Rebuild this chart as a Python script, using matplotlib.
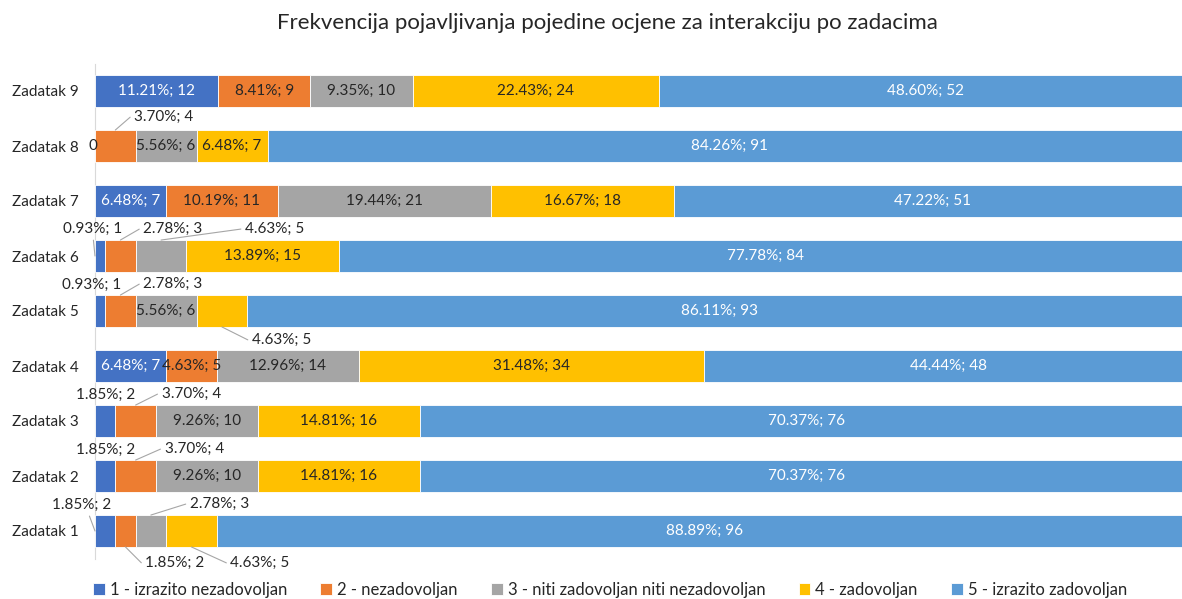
import matplotlib
matplotlib.use("Agg")
import matplotlib.pyplot as plt
import numpy as np

plt.rcParams['font.family'] = ['Lato', 'DejaVu Sans']

tasks = ["Zadatak 1", "Zadatak 2", "Zadatak 3", "Zadatak 4", "Zadatak 5",
         "Zadatak 6", "Zadatak 7", "Zadatak 8", "Zadatak 9"]
ratings = ["1 - izrazito nezadovoljan", "2 - nezadovoljan",
           "3 - niti zadovoljan niti nezadovoljan", "4 - zadovoljan",
           "5 - izrazito zadovoljan"]
# number of answers per rating, Zadatak 1 .. Zadatak 9
r1 = [2, 2, 2, 7, 1, 1, 7, 0, 12]
r2 = [2, 4, 4, 5, 3, 3, 11, 4, 9]
r3 = [3, 10, 10, 14, 6, 5, 21, 6, 10]
r4 = [5, 16, 16, 34, 5, 15, 18, 7, 24]
r5 = [96, 76, 76, 48, 93, 84, 51, 91, 52]
colors = ["#4472C4", "#ED7D31", "#A5A5A5", "#FFC000", "#5B9BD5"]
text_colors = ["white", "#262626", "#262626", "#262626", "white"]

# labels moved outside of narrow segments:
# (task index, rating index, anchor, dx px, dy px, leader)
callouts = [
    (7, 0, "left", -2, 0, None),
    (7, 1, "top", 19, 13, "elbow"),
    (5, 0, "left", -2, 27, "down"),
    (5, 1, "top", 23, 11, "elbow"),
    (5, 2, "top", 84, 11, "elbow"),
    (4, 0, "top", -8, 10, None),
    (4, 1, "top", 23, 11, "elbow"),
    (4, 3, "bottom", 30, -13, "elbow"),
    (2, 0, "top", 0, 10, None),
    (2, 1, "top", 26, 11, "elbow"),
    (1, 0, "top", 0, 10, None),
    (1, 1, "top", 29, 11, "elbow"),
    (0, 0, "left", -13, 26, "diag"),
    (0, 2, "top", 39, 11, "elbow"),
    (0, 1, "bottom", 20, -16, "elbow"),
    (0, 3, "bottom", 39, -16, "elbow"),
]

counts = np.array([r1, r2, r3, r4, r5], dtype=float)
totals = counts.sum(axis=0)
pcts = counts / totals * 100

fig = plt.figure(figsize=(11.82, 5.99), dpi=100)
ax = fig.add_axes([95 / 1182, 40.5 / 599, 1097 / 1182, 495 / 599])

y = np.arange(len(tasks))
bar_h = 0.58
left = np.zeros(len(tasks))
for k in range(5):
    ax.barh(y, pcts[k], left=left, height=bar_h, color=colors[k],
            edgecolor="white", linewidth=0.6, label=ratings[k])
    left += pcts[k]

def label_text(k, i):
    if counts[k, i] == 0:
        return "0"
    return f"{pcts[k, i]:.2f}%; {int(counts[k, i])}"

moved = {(i, k) for i, k, *_ in callouts}
starts = np.vstack([np.zeros(len(tasks)), np.cumsum(pcts, axis=0)[:-1]])
for k in range(5):
    for i in range(len(tasks)):
        if (i, k) in moved:
            continue
        xc = starts[k, i] + pcts[k, i] / 2
        ax.text(xc, y[i], label_text(k, i), ha="center", va="center",
                fontsize=11, color=text_colors[k])

lead = dict(arrowstyle="-", color="#A6A6A6", lw=0.8, shrinkA=1, shrinkB=0)
for i, k, anchor, dx, dy, leader in callouts:
    xc = starts[k, i] + pcts[k, i] / 2
    if anchor == "top":
        xy = (xc, y[i] + bar_h / 2)
    elif anchor == "bottom":
        xy = (xc, y[i] - bar_h / 2)
    else:
        xy = (0, y[i])
    props = None
    ha = "center"
    if leader == "elbow":
        ha = "left"
        props = dict(lead, relpos=(0, 0.5),
                     connectionstyle="arc,angleA=180,armA=4,angleB=0,armB=0,rad=0")
    elif leader == "down":
        props = dict(lead, relpos=(0.5, 0))
    elif leader == "diag":
        props = dict(lead, relpos=(0.6, 0))
    ax.annotate(label_text(k, i), xy=xy, xycoords="data", xytext=(dx, dy),
                textcoords="offset pixels", ha=ha, va="center", fontsize=11,
                color="#262626", arrowprops=props)

ax.set_xlim(0, 100)
ax.set_ylim(-0.5, len(tasks) - 0.5)
ax.set_yticks(y)
ax.set_yticklabels(tasks, fontsize=11, color="#262626")
ax.tick_params(axis="y", length=0, pad=12)
ax.set_xticks([])
for side in ["top", "right", "bottom"]:
    ax.spines[side].set_visible(False)
ax.spines["left"].set_color("#D9D9D9")
ax.spines["left"].set_zorder(0)

fig.text(0.5135, 1 - 23 / 599, "Frekvencija pojavljivanja pojedine ocjene za interakciju po zadacima",
         ha="center", va="center", fontsize=16, color="#262626")

fig.legend(loc="center", bbox_to_anchor=(0.516, 9 / 599), ncol=5, frameon=False,
           fontsize=12, handlelength=0.7, handleheight=0.7, handletextpad=0.3,
           columnspacing=2.0, labelcolor="#262626")

fig.savefig("out.png", dpi=100)
